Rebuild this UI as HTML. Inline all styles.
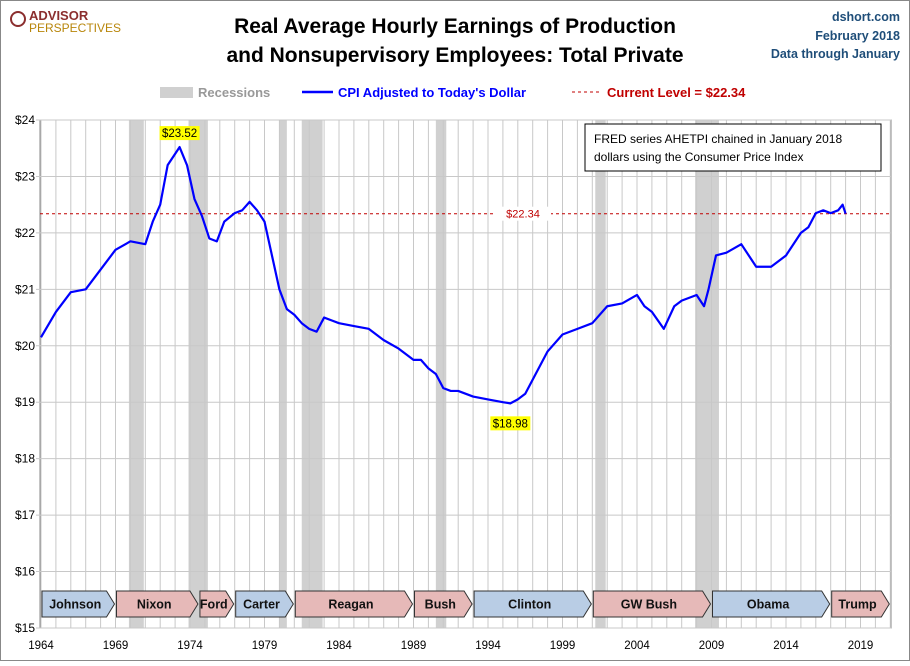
<!DOCTYPE html>
<html><head><meta charset="utf-8"><style>
body{margin:0;background:#fff}
#wrap{position:relative;width:910px;height:661px;font-family:"Liberation Sans",sans-serif}
</style></head><body>
<div id="wrap">
<svg id="c" width="910" height="661" xmlns="http://www.w3.org/2000/svg"></svg>
</div>
<script>
const years=[1964,1965,1966,1967,1968,1969,1970,1971,1971.5,1972,1972.5,1973,1973.3,1973.8,1974.3,1974.8,1975.3,1975.8,1976.3,1977,1977.5,1978,1978.5,1979,1979.5,1980,1980.5,1981,1981.5,1982,1982.5,1983,1983.5,1984,1985,1986,1987,1988,1989,1989.5,1990,1990.5,1991,1991.5,1992,1993,1994,1995,1995.5,1996,1996.5,1997,1998,1999,2000,2001,2002,2003,2004,2004.5,2005,2005.8,2006.5,2007,2008,2008.5,2008.8,2009.3,2010,2011,2012,2013,2014,2015,2015.5,2016,2016.5,2017,2017.5,2017.8,2018.0];
const earnings=[20.15,20.6,20.95,21.0,21.35,21.7,21.85,21.8,22.2,22.5,23.2,23.4,23.52,23.2,22.6,22.3,21.9,21.85,22.2,22.35,22.4,22.55,22.4,22.2,21.6,21.0,20.65,20.55,20.4,20.3,20.25,20.5,20.45,20.4,20.35,20.3,20.1,19.95,19.75,19.75,19.6,19.5,19.25,19.2,19.2,19.1,19.05,19.0,18.98,19.05,19.15,19.4,19.9,20.2,20.3,20.4,20.7,20.75,20.9,20.7,20.6,20.3,20.7,20.8,20.9,20.7,21.0,21.6,21.65,21.8,21.4,21.4,21.6,22.0,22.1,22.35,22.4,22.35,22.4,22.5,22.34];
const yTicks=[15,16,17,18,19,20,21,22,23,24];
const xTickYears=[1964,1969,1974,1979,1984,1989,1994,1999,2004,2009,2014,2019];
const recessions=[[1969.9,1970.9],[1973.9,1975.2],[1980.0,1980.5],[1981.5,1982.9],[1990.5,1991.2],[2001.2,2001.9],[2007.9,2009.5]];
const presidents=["Johnson","Nixon","Ford","Carter","Reagan","Bush","Clinton","GW Bush","Obama","Trump"];
const presStart=[1964,1969,1974.6,1977,1981,1989,1993,2001,2009,2017];
const presEnd=[1969,1974.6,1977,1981,1989,1993,2001,2009,2017,2021];
const presParty=["D","R","R","D","R","R","D","R","D","R"];
const current=22.34;
const L=40,R=891,T=120,B=628;
const X=y=>41+(y-1964)*14.9;
const Y=v=>T+(24-v)*(B-T)/9;
const svg=document.getElementById('c');const NS="http://www.w3.org/2000/svg";
function mk(t,a,txt){const e=document.createElementNS(NS,t);for(const k in a)e.setAttribute(k,a[k]);if(txt!=null)e.textContent=txt;svg.appendChild(e);return e;}
let e;
e=mk('rect',{x:0.5,y:0.5,width:909,height:660,fill:'#fff',stroke:'#888'});

e=mk('rect',{x:L,y:T,width:R-L,height:B-T,fill:'#fff',stroke:'#888'});

recessions.forEach(r=>{e=mk('rect',{x:X(r[0]),y:T,width:X(r[1])-X(r[0]),height:B-T,fill:'#d0d0d0'});
});
for(let y=1964;y<=2021;y++){e=mk('line',{x1:X(y),x2:X(y),y1:T,y2:B,stroke:'#c8c8c8','stroke-width':1});
}
yTicks.forEach(v=>{e=mk('line',{x1:L-4,x2:R,y1:Y(v),y2:Y(v),stroke:'#c8c8c8'});

e=mk('text',{x:L-5,y:Y(v)+4,'text-anchor':'end','font-size':12,fill:'#000'},'$'+v);
});
xTickYears.forEach(y=>{e=mk('text',{x:X(y),y:649,'text-anchor':'middle','font-size':11.5,fill:'#000'},y);
});
// presidents
presidents.forEach((p,i)=>{const x0=X(presStart[i])+1,x1=X(presEnd[i])-1,y0=591,y1=617,m=(y0+y1)/2;
const pts=`${x0},${y0} ${x1-8},${y0} ${x1},${m} ${x1-8},${y1} ${x0},${y1}`;
e=mk('polygon',{points:pts,fill:presParty[i]=='D'?'#b9cde5':'#e6b9b8',stroke:'#333','stroke-width':1});

e=mk('text',{x:(x0+x1-6)/2,y:m+4.5,'text-anchor':'middle','font-size':12.5,'font-weight':'bold',fill:'#111'},p);
});
// current line
e=mk('line',{x1:L,x2:R,y1:Y(current),y2:Y(current),stroke:'#c00000','stroke-dasharray':'3,3','stroke-width':1});

e=mk('rect',{x:495,y:Y(current)-7,width:56,height:14,fill:'#fff'});

e=mk('text',{x:523,y:Y(current)+4,'text-anchor':'middle','font-size':11,fill:'#c00000'},'$'+current.toFixed(2));

// series
e=mk('polyline',{points:years.map((y,i)=>X(y)+','+Y(earnings[i])).join(' '),fill:'none',stroke:'#0000ff','stroke-width':2.2,'stroke-linejoin':'round'});

// max/min labels
let mi=earnings.indexOf(Math.max(...earnings)),ni=earnings.indexOf(Math.min(...earnings));
e=mk('rect',{x:X(years[mi])-20,y:Y(earnings[mi])-21,width:40,height:14,fill:'#ffff00'});

e=mk('text',{x:X(years[mi]),y:Y(earnings[mi])-10,'text-anchor':'middle','font-size':11.5,fill:'#000'},'$'+earnings[mi].toFixed(2));

e=mk('rect',{x:X(years[ni])-20,y:Y(earnings[ni])+13,width:40,height:14,fill:'#ffff00'});

e=mk('text',{x:X(years[ni]),y:Y(earnings[ni])+24,'text-anchor':'middle','font-size':11.5,fill:'#000'},'$'+earnings[ni].toFixed(2));

// note box
e=mk('rect',{x:585,y:124,width:296,height:47,fill:'#fff',stroke:'#000'});

e=mk('text',{x:594,y:143,'font-size':12,fill:'#000'},'FRED series AHETPI chained in January 2018');

e=mk('text',{x:594,y:161,'font-size':12,fill:'#000'},'dollars using the Consumer Price Index');

// titles
e=mk('text',{x:455,y:33,'text-anchor':'middle','font-size':21,'font-weight':'bold',fill:'#000'},'Real Average Hourly Earnings of Production');

e=mk('text',{x:455,y:62,'text-anchor':'middle','font-size':21,'font-weight':'bold',fill:'#000'},'and Nonsupervisory Employees: Total Private');

[['dshort.com',21],['February 2018',40],['Data through January',58]].forEach(t=>{e=mk('text',{x:900,y:t[1],'text-anchor':'end','font-size':12.5,'font-weight':'bold',fill:'#1f4e79'},t[0]);
});
e=mk('circle',{cx:18,cy:19,r:7,fill:'none',stroke:'#8b2e2e','stroke-width':2});

e=mk('text',{x:29,y:20,'font-size':13,'font-weight':'bold',fill:'#8b2e2e'},'ADVISOR');

e=mk('text',{x:29,y:32,'font-size':12,fill:'#b8860b'},'PERSPECTIVES');

// legend
e=mk('rect',{x:160,y:87,width:33,height:11,fill:'#d0d0d0'});

e=mk('text',{x:198,y:97,'font-size':13,'font-weight':'bold',fill:'#999'},'Recessions');

e=mk('line',{x1:302,x2:333,y1:92,y2:92,stroke:'#0000ff','stroke-width':2.5});

e=mk('text',{x:338,y:97,'font-size':13,'font-weight':'bold',fill:'#0000ff'},"CPI Adjusted to Today's Dollar");

e=mk('line',{x1:572,x2:601,y1:92,y2:92,stroke:'#c00000','stroke-dasharray':'3,3'});

e=mk('text',{x:607,y:97,'font-size':13,'font-weight':'bold',fill:'#c00000'},'Current Level = $22.34');

</script>
</body></html>
